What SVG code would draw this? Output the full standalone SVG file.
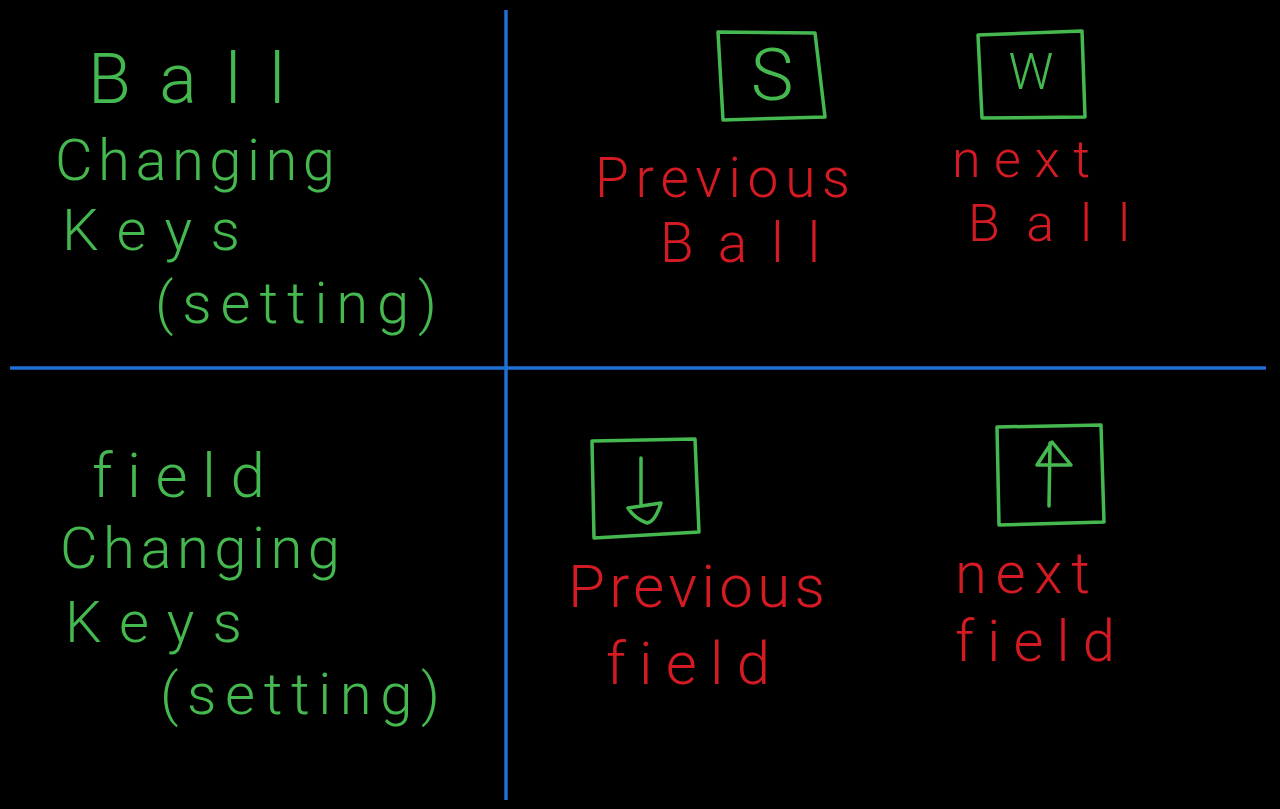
<svg xmlns="http://www.w3.org/2000/svg" width="1280" height="809" viewBox="0 0 1280 809">
<style>
text{font-variant-ligatures:none;font-feature-settings:"liga" 0}
.g{fill:#45b94f;font-family:Roboto,"Liberation Sans",sans-serif;font-weight:300}
.r{fill:#d41a22;font-family:Roboto,"Liberation Sans",sans-serif;font-weight:300}
.box{fill:none;stroke:#45b94f;stroke-width:3.5;stroke-linejoin:round;stroke-linecap:round}
.ax{stroke:#1f6fd6;stroke-width:3.5;fill:none}
</style>
<rect width="1280" height="809" fill="#000"/>
<g id="connectors">
<line class="ax" x1="506" y1="10" x2="506" y2="800"/>
<line class="ax" x1="10" y1="368" x2="1266" y2="368"/>
</g>
<g id="ball-label">
<text class="g" x="88" y="103" font-size="70" textLength="197" lengthAdjust="spacing">Ball</text>
<text class="g" x="55" y="180" font-size="58" textLength="280" lengthAdjust="spacing">Changing</text>
<text class="g" x="62" y="250" font-size="58" textLength="178" lengthAdjust="spacing">Keys</text>
<text class="g" x="155" y="323" font-size="58" textLength="282" lengthAdjust="spacing">(setting)</text>
</g>
<g id="key-s">
<path class="box" d="M718,32 L815,33 L825,117 L723,120 Z"/>
<text class="g" x="772" y="100" font-size="72" text-anchor="middle">S</text>
</g>
<g id="key-w">
<path class="box" d="M978,35 L1082,31 L1085,117 L982,118 Z"/>
<text class="g" x="1031" y="89" font-size="50" text-anchor="middle">W</text>
</g>
<g id="prev-ball">
<text class="r" x="595" y="197" font-size="55" textLength="255" lengthAdjust="spacing">Previous</text>
<text class="r" x="660" y="262" font-size="55" textLength="160" lengthAdjust="spacing">Ball</text>
</g>
<g id="next-ball">
<text class="r" x="952" y="177" font-size="52" textLength="138" lengthAdjust="spacing">next</text>
<text class="r" x="968" y="241" font-size="52" textLength="162" lengthAdjust="spacing">Ball</text>
</g>
<g id="field-label">
<text class="g" x="92" y="497" font-size="62" textLength="173" lengthAdjust="spacing">field</text>
<text class="g" x="60" y="568" font-size="58" textLength="280" lengthAdjust="spacing">Changing</text>
<text class="g" x="65" y="642" font-size="58" textLength="177" lengthAdjust="spacing">Keys</text>
<text class="g" x="160" y="714" font-size="58" textLength="280" lengthAdjust="spacing">(setting)</text>
</g>
<g id="key-down">
<path class="box" d="M592,441 L695,439 L699,532 L594,538 Z"/>
<path class="box" d="M641,458 L641,505 M628,508 L661,503 Q655,522 647,523 Q634,518 628,508 Z"/>
</g>
<g id="key-up">
<path class="box" d="M997,427 L1101,425 L1104,522 L999,525 Z"/>
<path class="box" d="M1049,506 L1050,443 M1037,465 L1071,465 L1052,442 Z"/>
</g>
<g id="prev-field">
<text class="r" x="568" y="607" font-size="60" textLength="257" lengthAdjust="spacing">Previous</text>
<text class="r" x="606" y="684" font-size="60" textLength="164" lengthAdjust="spacing">field</text>
</g>
<g id="next-field">
<text class="r" x="955" y="593" font-size="58" textLength="135" lengthAdjust="spacing">next</text>
<text class="r" x="955" y="661" font-size="58" textLength="160" lengthAdjust="spacing">field</text>
</g>
</svg>
